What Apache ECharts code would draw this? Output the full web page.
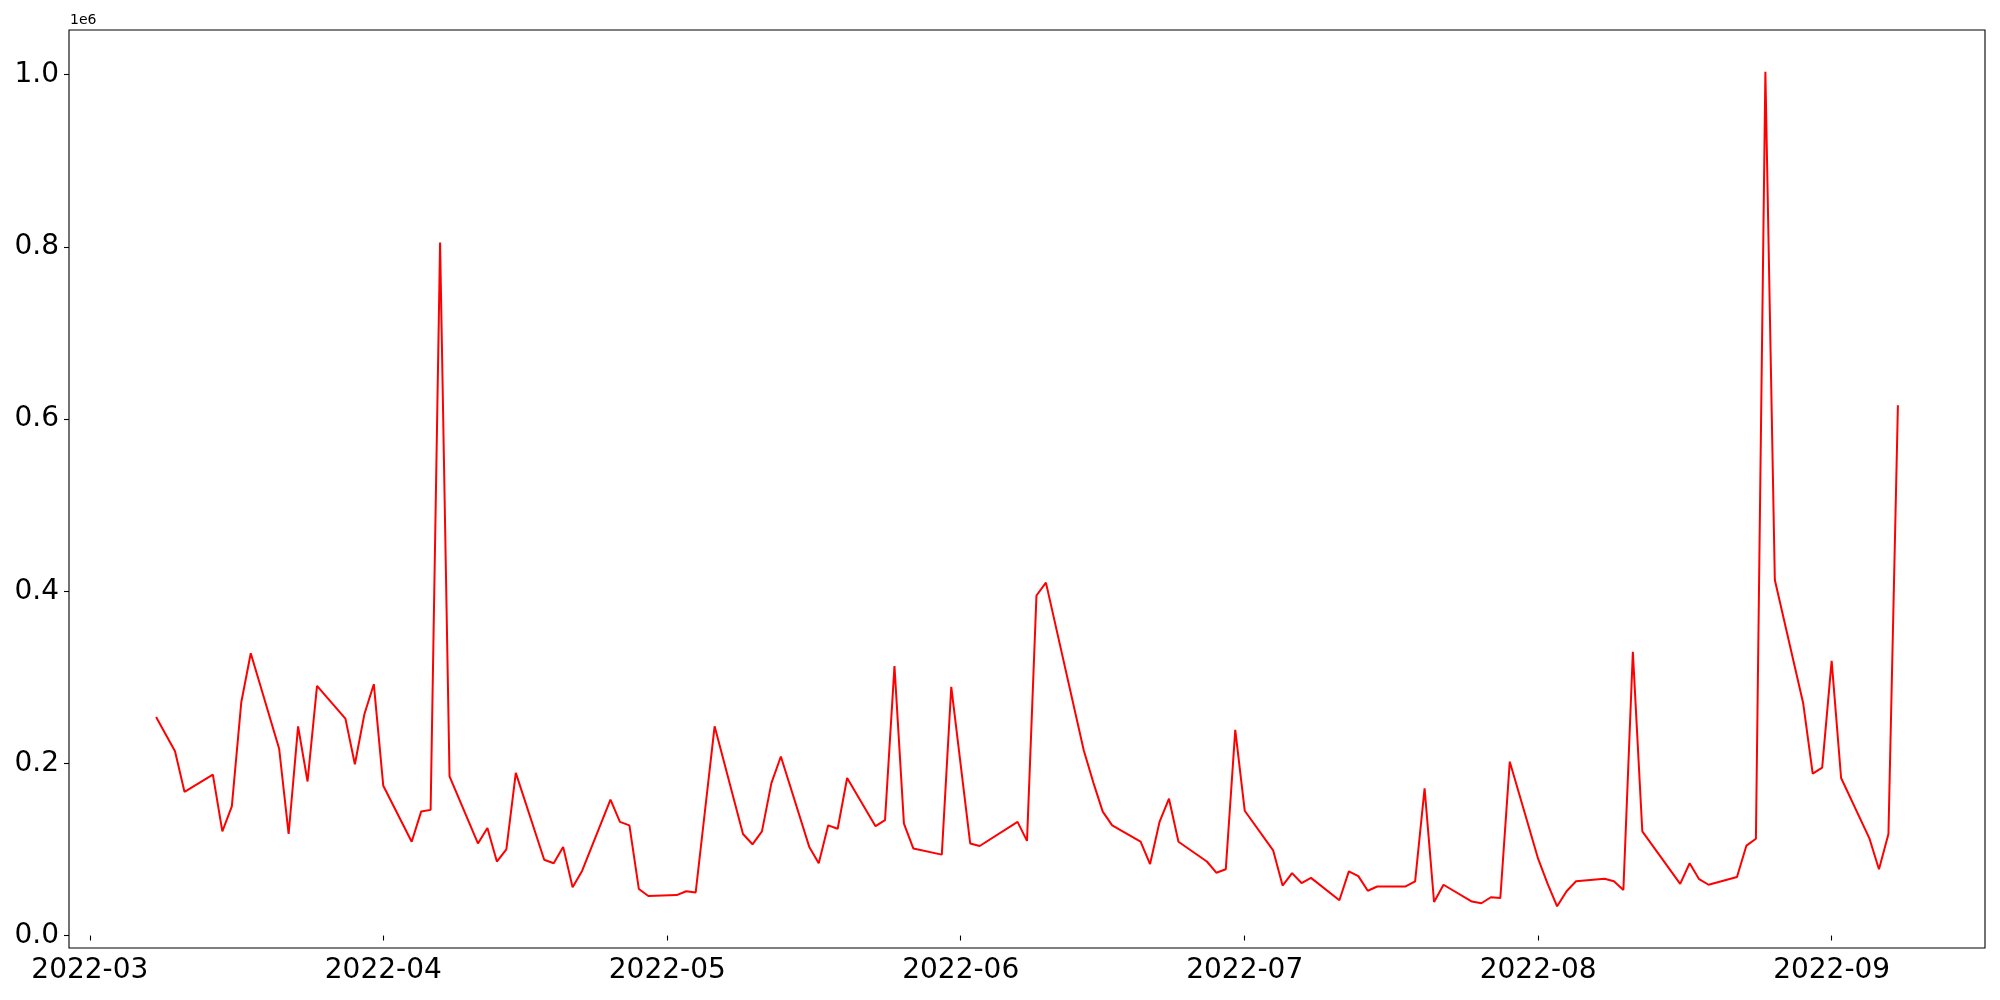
<!DOCTYPE html>
<html>
<head>
<meta charset="utf-8">
<script src="https://cdn.jsdelivr.net/npm/echarts@6/dist/echarts.min.js"></script>
<style>
html,body{margin:0;padding:0;background:#fff;}
#chart{width:2000px;height:1000px;}
</style>
</head>
<body>
<div id="chart"></div>
<script>
// ---- data ----
var dates = [
 '2022-03-08','2022-03-10','2022-03-11','2022-03-14','2022-03-15','2022-03-16','2022-03-17','2022-03-18',
 '2022-03-21','2022-03-22','2022-03-23','2022-03-24','2022-03-25','2022-03-28','2022-03-29','2022-03-30',
 '2022-03-31','2022-04-01','2022-04-04','2022-04-05','2022-04-06','2022-04-07','2022-04-08','2022-04-11',
 '2022-04-12','2022-04-13','2022-04-14','2022-04-15','2022-04-18','2022-04-19','2022-04-20','2022-04-21',
 '2022-04-22','2022-04-25','2022-04-26','2022-04-27','2022-04-28','2022-04-29','2022-05-02','2022-05-03',
 '2022-05-04','2022-05-06','2022-05-09','2022-05-10','2022-05-11','2022-05-12','2022-05-13','2022-05-16',
 '2022-05-17','2022-05-18','2022-05-19','2022-05-20','2022-05-23','2022-05-24','2022-05-25','2022-05-26',
 '2022-05-27','2022-05-30','2022-05-31','2022-06-02','2022-06-03','2022-06-07','2022-06-08','2022-06-09',
 '2022-06-10','2022-06-14','2022-06-15','2022-06-16','2022-06-17','2022-06-20','2022-06-21','2022-06-22',
 '2022-06-23','2022-06-24','2022-06-27','2022-06-28','2022-06-29','2022-06-30','2022-07-01','2022-07-04',
 '2022-07-05','2022-07-06','2022-07-07','2022-07-08','2022-07-11','2022-07-12','2022-07-13','2022-07-14',
 '2022-07-15','2022-07-18','2022-07-19','2022-07-20','2022-07-21','2022-07-22','2022-07-25','2022-07-26',
 '2022-07-27','2022-07-28','2022-07-29','2022-08-01','2022-08-02','2022-08-03','2022-08-04','2022-08-05',
 '2022-08-08','2022-08-09','2022-08-10','2022-08-11','2022-08-12','2022-08-16','2022-08-17','2022-08-18',
 '2022-08-19','2022-08-22','2022-08-23','2022-08-24','2022-08-25','2022-08-26','2022-08-29','2022-08-30',
 '2022-08-31','2022-09-01','2022-09-02','2022-09-05','2022-09-06','2022-09-07','2022-09-08'
];
var values = [
 254000,214000,167000,187000,121000,150000,271000,328000,
 217000,118000,243000,179000,290000,252000,199000,257000,
 292000,174000,109000,144000,146000,805000,185000,107000,
 125000,86000,100000,189000,88000,84000,103000,56000,
 75000,158000,132000,128000,54000,46000,47000,51500,
 50000,243000,118000,106000,121000,177000,208000,103000,
 84000,128000,124000,183000,127000,134000,313000,130000,
 101000,94000,289000,107000,104000,132000,110000,395000,
 410000,215000,178000,144000,128000,109000,83000,132000,
 159000,109000,86000,73000,77000,239000,145000,99000,
 58000,72500,61000,67000,41000,74500,69000,52000,
 57000,57000,63000,171000,39000,59000,39500,37500,
 44500,43500,202000,89000,60000,34000,51500,63000,
 66000,63000,53000,329500,121000,60000,84000,65500,
 59000,68000,104500,112500,1003500,413000,269500,188000,
 195000,319000,183000,112500,77000,118000,616000
];
var xTickLabels = ['2022-03','2022-04','2022-05','2022-06','2022-07','2022-08','2022-09'];
var yTickValues = [0, 200000, 400000, 600000, 800000, 1000000];
var offsetText = '1e6';

// ---- helpers ----
function ts(s){ var p = s.split('-'); return Date.UTC(+p[0], +p[1]-1, p[2] ? +p[2] : 1); }
var xs = dates.map(ts);
var seriesData = xs.map(function(x,i){ return [x, values[i]]; });
var xTicks = xTickLabels.map(ts);
var xSpan = xs[xs.length-1] - xs[0];
var vMin = Math.min.apply(null, values), vMax = Math.max.apply(null, values);
var vSpan = vMax - vMin;
var FONT = 'DejaVu Sans';
function pad2(n){ return (n<10?'0':'')+n; }

var chart = echarts.init(document.getElementById('chart'), null, {renderer:'canvas'});
chart.setOption({
  animation: false,
  backgroundColor: '#ffffff',
  grid: {left: 69, right: 15, top: 30, bottom: 52, show: true, borderColor: '#000', borderWidth: 1.1, containLabel: false},
  xAxis: {
    type: 'value',
    min: xs[0] - 0.05*xSpan,
    max: xs[xs.length-1] + 0.05*xSpan,
    axisLine: {show: false},
    splitLine: {show: false},
    axisTick: {show: true, customValues: xTicks, length: 5, lineStyle: {color: '#000', width: 1.1}},
    axisLabel: {
      customValues: xTicks, margin: 9, color: '#000', fontSize: 28, fontFamily: FONT,
      formatter: function(v){ var d = new Date(v); return d.getUTCFullYear() + '-' + pad2(d.getUTCMonth()+1); }
    }
  },
  yAxis: {
    type: 'value',
    min: vMin - 0.05*vSpan,
    max: vMax + 0.05*vSpan,
    axisLine: {show: false},
    splitLine: {show: false},
    axisTick: {show: true, customValues: yTickValues, length: 5, lineStyle: {color: '#000', width: 1.1}},
    axisLabel: {
      customValues: yTickValues, margin: 10, color: '#000', fontSize: 28, fontFamily: FONT,
      formatter: function(v){ return (v/1e6).toFixed(1); }
    }
  },
  graphic: [{
    type: 'text', left: 70, top: 13,
    style: {text: offsetText, fill: '#000', font: '14px "DejaVu Sans"'}
  }],
  series: [{
    type: 'line',
    data: seriesData,
    showSymbol: false,
    symbol: 'none',
    lineStyle: {color: '#ff0000', width: 2},
    itemStyle: {color: '#ff0000'}
  }]
});
</script>
</body>
</html>
